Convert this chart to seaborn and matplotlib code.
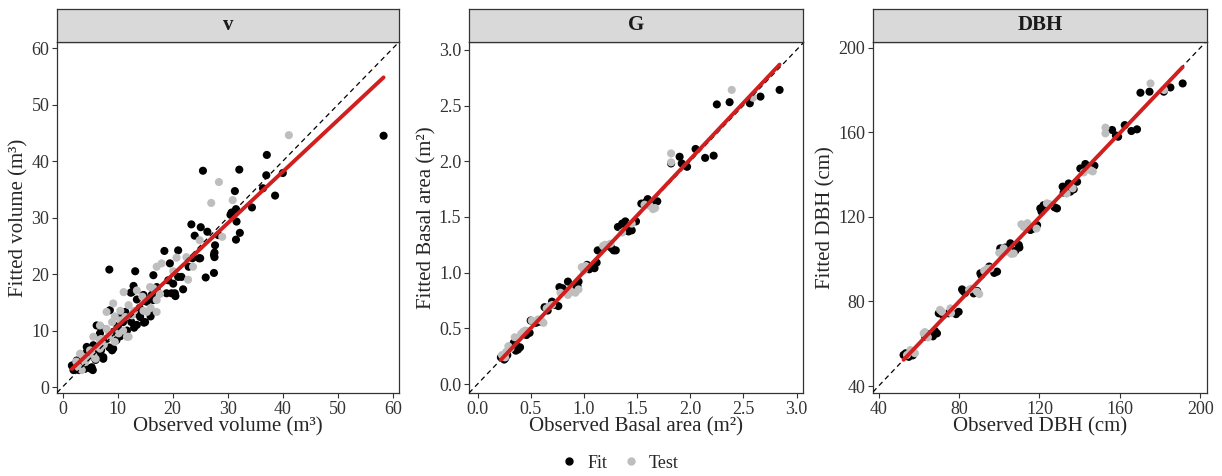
import numpy as np
import pandas as pd
import seaborn as sns
import matplotlib
matplotlib.use("Agg")
import matplotlib.pyplot as plt
from matplotlib.lines import Line2D

# ---- data (observed, fitted) ----
# volume (m3)
v_fit_obs = [58.3, 37.1, 32.1, 25.5, 37.0, 40.0, 38.6, 31.3, 36.4, 34.4, 31.5, 30.7, 31.6, 32.2, 31.5,
             23.4, 25.1, 26.3, 24.0, 27.7, 27.5, 24.8, 23.6, 27.5, 26.0, 18.5, 21.0, 19.5, 20.1, 21.9,
             20.4, 19.8, 21.6, 16.5, 17.1, 8.5, 13.2, 12.9, 12.6, 8.6, 6.2, 10.5, 13.5, 15.0, 9.2,
             4.4, 5.3, 2.3, 7.4, 16.2, 18.9, 13.5, 15.3, 16.2, 14.8, 9.3, 6.8, 7.4, 5.0, 3.2,
             1.7, 4.4, 2.6, 5.6, 9.8, 11.7, 14.1, 16.5, 14.7, 17.1, 19.2, 22.9, 25.0, 28.3, 27.6,
             27.6, 20.5, 21.0, 11.4, 12.4, 11.0, 12.0, 8.0, 6.5, 3.8, 13.0, 10.0, 30.5,
             3.0, 4.0, 5.5, 6.0, 7.0, 8.5, 9.0, 10.5, 11.0, 12.5, 13.5, 14.0, 15.5, 16.0, 7.0,
             4.5, 2.0, 3.5]
v_fit_pred = [44.5, 41.1, 38.5, 38.3, 37.5, 37.9, 33.9, 34.7, 35.2, 31.8, 31.5, 30.9, 29.3, 27.3, 26.1,
              28.8, 28.3, 27.5, 26.8, 25.1, 23.4, 22.8, 22.8, 20.2, 19.4, 24.1, 24.2, 21.9, 18.3, 17.3,
              16.6, 16.6, 19.5, 19.8, 17.1, 20.8, 20.5, 17.9, 16.8, 13.6, 10.9, 12.4, 13.0, 11.5, 6.8,
              7.1, 3.5, 4.1, 5.3, 16.3, 16.6, 15.5, 15.1, 13.3, 11.4, 9.8, 9.5, 5.0, 3.3, 3.8,
              3.8, 6.2, 4.7, 7.4, 8.3, 10.0, 12.4, 15.4, 16.3, 17.7, 18.9, 21.3, 22.8, 26.9, 23.8,
              23.0, 16.1, 19.5, 13.3, 16.7, 11.5, 12.5, 8.5, 6.0, 3.3, 10.5, 10.8, 30.5,
              3.0, 3.2, 3.0, 4.8, 6.5, 7.0, 6.5, 9.0, 9.5, 11.5, 11.0, 14.0, 15.5, 12.5, 10.5,
              5.5, 3.0, 4.5]
v_test_obs = [41.1, 28.4, 27.0, 30.9, 29.0, 24.9, 23.7, 20.7, 17.1, 18.0, 22.8, 22.5, 17.7, 17.1, 17.1,
              11.1, 9.2, 8.0, 13.5, 15.9, 10.5, 11.4, 15.3, 12.0, 11.7, 8.6, 6.8, 8.0, 6.8, 5.6,
              4.4, 4.1, 3.2, 2.9, 5.6, 14.7, 12.6, 10.2, 3.8, 20.1, 6.8, 16.0, 9.5, 7.5,
              2.5, 3.5, 5.0, 6.0, 7.0, 8.5, 9.5, 10.5, 12.0, 13.0, 14.5, 16.5, 11.0, 9.0]
v_test_pred = [44.6, 36.3, 32.6, 33.1, 26.6, 26.0, 21.3, 22.9, 21.3, 21.9, 19.0, 23.0, 16.5, 13.3, 15.4,
               16.8, 14.8, 13.3, 17.1, 17.7, 11.8, 12.4, 13.3, 8.9, 8.9, 8.9, 8.3, 10.3, 6.8, 5.6,
               5.0, 4.4, 5.9, 3.5, 8.9, 13.5, 12.7, 9.5, 5.3, 20.5, 10.9, 14.0, 8.0, 7.5,
               4.5, 3.0, 6.5, 5.0, 8.5, 9.5, 12.5, 13.5, 14.5, 13.5, 16.0, 17.5, 10.0, 11.5]

# basal area (m2)
g_fit_obs = [2.84, 2.66, 2.56, 2.37, 2.25, 2.22, 2.14, 2.05, 1.97, 1.90, 1.92, 1.82, 1.69, 1.60, 1.54,
             1.49, 1.40, 1.32, 1.39, 1.36, 1.42, 1.28, 1.26, 1.13, 1.09, 1.12, 1.01, 1.03, 0.93, 0.93,
             0.85, 0.77, 0.76, 0.70, 0.63, 0.59, 0.49, 0.50, 0.46, 0.37, 0.34, 0.38, 0.26, 0.22, 0.28,
             0.25, 0.36, 0.40, 0.47, 0.55, 0.66, 0.72, 0.80, 0.94, 0.95, 1.05, 1.10, 1.22, 1.30, 1.45,
             1.58, 1.64]
g_fit_pred = [2.64, 2.58, 2.52, 2.53, 2.51, 2.05, 2.03, 2.11, 1.95, 2.04, 1.98, 1.98, 1.64, 1.66, 1.62,
              1.46, 1.38, 1.41, 1.46, 1.44, 1.37, 1.20, 1.22, 1.20, 1.05, 1.09, 1.04, 1.07, 0.90, 0.86,
              0.92, 0.87, 0.70, 0.74, 0.69, 0.56, 0.46, 0.57, 0.44, 0.34, 0.37, 0.31, 0.23, 0.24, 0.26,
              0.22, 0.30, 0.33, 0.47, 0.55, 0.66, 0.71, 0.86, 0.88, 0.92, 1.03, 1.04, 1.24, 1.20, 1.38,
              1.63, 1.62]
g_test_obs = [2.39, 2.59, 1.82, 1.82, 1.67, 1.57, 1.62, 1.20, 1.18, 0.98, 1.00, 0.88, 0.92, 0.85, 0.70,
              0.65, 0.60, 0.62, 0.51, 0.43, 0.41, 0.29, 0.31, 0.23, 0.26, 1.36,
              0.35, 0.45, 0.57, 0.68, 0.78, 0.95, 1.02, 1.25, 1.45, 1.65, 0.27]
g_test_pred = [2.64, 2.57, 2.07, 1.99, 1.58, 1.61, 1.60, 1.25, 1.24, 1.05, 1.02, 0.83, 0.82, 0.80, 0.71,
               0.68, 0.57, 0.55, 0.57, 0.47, 0.45, 0.34, 0.32, 0.26, 0.24, 1.36,
               0.42, 0.48, 0.58, 0.70, 0.82, 0.85, 1.06, 1.26, 1.44, 1.57, 0.29]

# DBH (cm)
d_fit_obs = [191.2, 185.1, 181.8, 174.7, 170.2, 168.5, 165.7, 162.4, 159.1, 156.1, 147.3, 142.8, 140.3,
             138.7, 134.5, 131.5, 135.3, 133.0, 128.7, 120.4, 122.0, 118.8, 115.5, 112.5, 109.7, 105.5,
             100.5, 108.0, 98.9, 90.6, 95.0, 81.5, 83.0, 87.3, 79.8, 74.8, 69.9, 69.0, 67.0, 63.2,
             57.4, 52.4, 55.0,
             53.5, 57.0, 65.0, 68.0, 72.0, 78.5, 82.0, 89.0, 91.0, 97.5, 103.0, 110.0, 117.0, 121.0,
             127.5, 132.0, 137.0, 144.0, 158.0]
d_fit_pred = [183.1, 181.2, 179.2, 179.2, 178.7, 161.4, 160.6, 163.4, 157.9, 161.1, 144.2, 145.0, 142.9,
              136.6, 135.8, 134.3, 131.9, 133.5, 124.0, 124.0, 125.5, 116.1, 113.8, 115.5, 106.7, 107.5,
              105.1, 104.0, 94.1, 93.3, 96.5, 85.7, 84.0, 83.8, 75.1, 74.4, 74.4, 64.9, 63.5, 63.3,
              55.4, 54.7, 53.8,
              55.5, 54.5, 64.5, 66.0, 73.5, 74.0, 85.0, 85.0, 92.5, 93.5, 105.5, 105.5, 114.5, 122.5,
              124.5, 131.5, 133.0, 143.5, 158.5]
d_test_obs = [175.2, 152.8, 152.8, 145.3, 136.5, 123.7, 112.1, 114.0, 107.2, 102.2, 104.5, 95.6, 92.5,
              88.9, 86.0, 75.7, 71.5, 62.4, 64.5, 55.8, 54.1, 58.0, 182.0,
              56.5, 63.0, 70.5, 76.0, 85.0, 90.0, 94.0, 100.0, 106.0, 111.0, 118.5, 125.0, 133.5,
              146.5, 142.0]
d_test_pred = [183.1, 162.2, 159.5, 142.1, 133.5, 126.4, 115.3, 117.0, 102.7, 105.1, 103.5, 95.6, 94.5,
               84.6, 86.0, 76.7, 75.1, 64.9, 63.0, 57.0, 54.7, 55.5, 180.0,
               56.5, 65.5, 76.0, 74.5, 85.5, 83.5, 95.5, 103.0, 102.5, 116.5, 114.5, 126.0, 131.0,
               141.5, 141.0]

panels = [
    ("v", v_fit_obs, v_fit_pred, v_test_obs, v_test_pred,
     "Observed volume (m³)", "Fitted volume (m³)", (-1.0, 61.1), (-1.06, 61.1), np.arange(0, 61, 10), "{:.0f}"),
    ("G", g_fit_obs, g_fit_pred, g_test_obs, g_test_pred,
     "Observed Basal area (m²)", "Fitted Basal area (m²)", (-0.08, 3.06), (-0.08, 3.07), np.arange(0, 3.01, 0.5), "{:.1f}"),
    ("DBH", d_fit_obs, d_fit_pred, d_test_obs, d_test_pred,
     "Observed DBH (cm)", "Fitted DBH (cm)", (37.2, 203.3), (36.7, 202.7), np.arange(40, 201, 40), "{:.0f}"),
]

sns.set_style("white")
plt.rcParams['font.family'] = ['Liberation Serif', 'DejaVu Serif']

fig = plt.figure(figsize=(12.22, 4.76), dpi=100)
lefts = [57 / 1222, 469 / 1222, 873 / 1222]
widths = [342 / 1222, 334 / 1222, 334 / 1222]
bottom = 1 - 393 / 476
height = (393 - 42) / 476
strip_h = 33 / 476

palette = {"Fit": "black", "Test": "#BEBEBE"}

for i, (name, fo, fp, to, tp, xl, yl, xlim, ylim, ticks, fmt) in enumerate(panels):
    df = pd.concat([
        pd.DataFrame({"obs": fo, "pred": fp, "set": "Fit"}),
        pd.DataFrame({"obs": to, "pred": tp, "set": "Test"}),
    ], ignore_index=True)

    ax = fig.add_axes([lefts[i], bottom, widths[i], height])
    sns.scatterplot(data=df, x="obs", y="pred", hue="set", palette=palette,
                    s=34, linewidth=0, ax=ax, legend=False, zorder=2)
    ax.axline((ticks[0], ticks[0]), slope=1, color="black", lw=0.9,
              linestyle=(0, (4, 3)), zorder=3)
    sns.regplot(data=df, x="obs", y="pred", scatter=False, ci=None, ax=ax,
                line_kws={"color": "#D11F1F", "lw": 2.8, "zorder": 4})

    ax.set_xlim(*xlim)
    ax.set_ylim(*ylim)
    ax.set_xticks(ticks)
    ax.set_yticks(ticks)
    ax.set_xticklabels([fmt.format(t) for t in ticks])
    ax.set_yticklabels([fmt.format(t) for t in ticks])
    ax.tick_params(axis="both", direction="out", length=3.5, width=0.8, color="#333333",
                   labelsize=13, labelcolor="#333333", pad=2, bottom=True, left=True)
    ax.set_xlabel(xl, fontsize=15, labelpad=0)
    ax.set_ylabel(yl, fontsize=15, labelpad=2)
    for sp in ax.spines.values():
        sp.set_color("#333333")
        sp.set_linewidth(0.9)

    # facet strip
    sax = fig.add_axes([lefts[i], bottom + height, widths[i], strip_h])
    sax.set_facecolor("#D9D9D9")
    sax.set_xticks([])
    sax.set_yticks([])
    for sp in sax.spines.values():
        sp.set_color("#333333")
        sp.set_linewidth(0.9)
    sax.text(0.5, 0.5, name, ha="center", va="center", fontsize=15,
             fontweight="bold", color="#1A1A1A", transform=sax.transAxes)

handles = [Line2D([], [], marker="o", linestyle="", color=palette[k], markersize=5, label=k)
           for k in ["Fit", "Test"]]
fig.legend(handles=handles, loc="center", bbox_to_anchor=(0.507, 0.027), ncol=2,
           frameon=False, fontsize=13, handlelength=1.0, handletextpad=0.5, columnspacing=0.8)

fig.savefig("out.png", dpi=100)
